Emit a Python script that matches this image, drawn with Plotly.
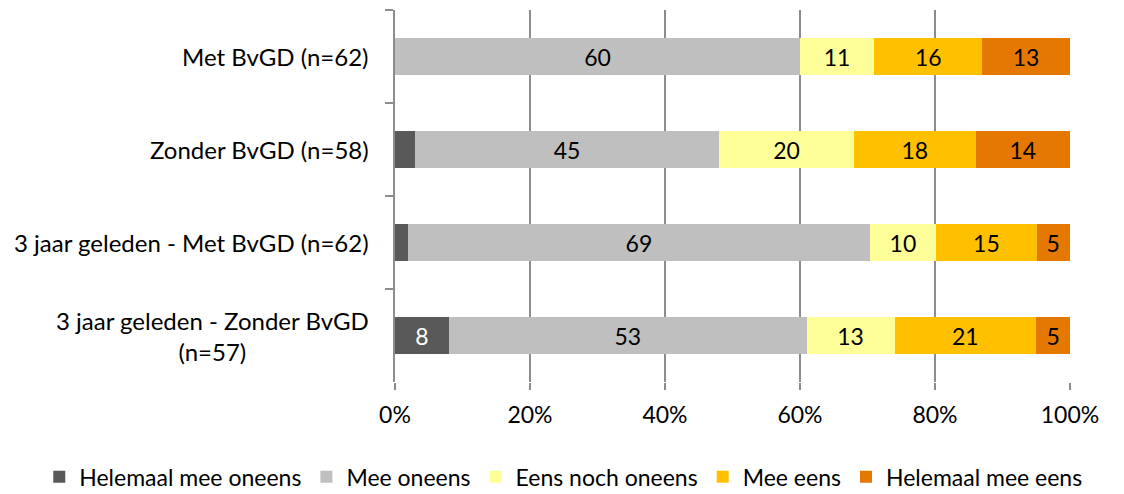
import plotly.graph_objects as go

categories = ["Met BvGD (n=62)", "Zonder BvGD (n=58)", "3 jaar geleden - Met BvGD (n=62)",
              "3 jaar geleden - Zonder BvGD<br>(n=57)"]
series_names = ["Helemaal mee oneens", "Mee oneens", "Eens noch oneens", "Mee eens", "Helemaal mee eens"]
helemaal_mee_oneens = [0, 3, 2, 8]
mee_oneens = [60, 45, 69, 53]
eens_noch_oneens = [11, 20, 10, 13]
mee_eens = [16, 18, 15, 21]
helemaal_mee_eens = [13, 14, 5, 5]
tick_vals = [0, 20, 40, 60, 80, 100]
tick_text = ["0%", "20%", "40%", "60%", "80%", "100%"]

colors = ["#595959", "#BFBFBF", "#FFFF99", "#FFC000", "#E47800"]
text_colors = ["white", "black", "black", "black", "black"]
all_series = [helemaal_mee_oneens, mee_oneens, eens_noch_oneens, mee_eens, helemaal_mee_eens]

FONT = "Lato"
FS = 23
fig = go.Figure()
for name, vals, col, tc in zip(series_names, all_series, colors, text_colors):
    fig.add_trace(go.Bar(
        y=categories, x=vals, name=name, orientation="h",
        marker=dict(color=col, line=dict(width=0)),
        text=[str(v) if v >= 4 else "" for v in vals],
        texttemplate="%{text}", textposition="inside", insidetextanchor="middle",
        textfont=dict(color=tc, size=FS, family=FONT),
        constraintext="none", hoverinfo="skip",
    ))

for c in categories:
    fig.add_annotation(x=0, xref="paper", y=c, yref="y", text=c, showarrow=False,
                       xanchor="right", align="center", xshift=-24,
                       font=dict(size=24, family=FONT, color="black"))

fig.update_layout(
    barmode="stack", barnorm="percent", bargap=0.6,
    width=1124, height=494,
    margin=dict(l=395, r=54, t=10, b=112, autoexpand=False),
    paper_bgcolor="white", plot_bgcolor="white",
    font=dict(family=FONT, size=FS, color="black"),
    showlegend=True,
    legend=dict(orientation="h", xref="paper", yref="paper",
                x=-0.527, xanchor="left", y=-0.255, yanchor="middle",
                font=dict(size=23, family=FONT), traceorder="normal",
                itemsizing="constant", itemwidth=30, tracegroupgap=0),
    xaxis=dict(range=[0, 100], tickvals=tick_vals, ticktext=tick_text,
               showgrid=True, gridcolor="#8C8C8C", gridwidth=1.5,
               ticks="outside", ticklen=7, tickcolor="#8C8C8C", tickwidth=1.5,
               ticklabelstandoff=5,
               showline=False, zeroline=False, tickfont=dict(size=FS)),
    yaxis=dict(categoryorder="array", categoryarray=categories, autorange="reversed",
               showticklabels=False, ticks="outside", tickson="boundaries",
               ticklen=8, tickcolor="#8C8C8C", tickwidth=1.5,
               showline=True, linecolor="#8C8C8C", linewidth=1.5, showgrid=False),
)
fig.write_html("out.html", config={"displayModeBar": False},
               post_script="document.body.style.margin='0';")
